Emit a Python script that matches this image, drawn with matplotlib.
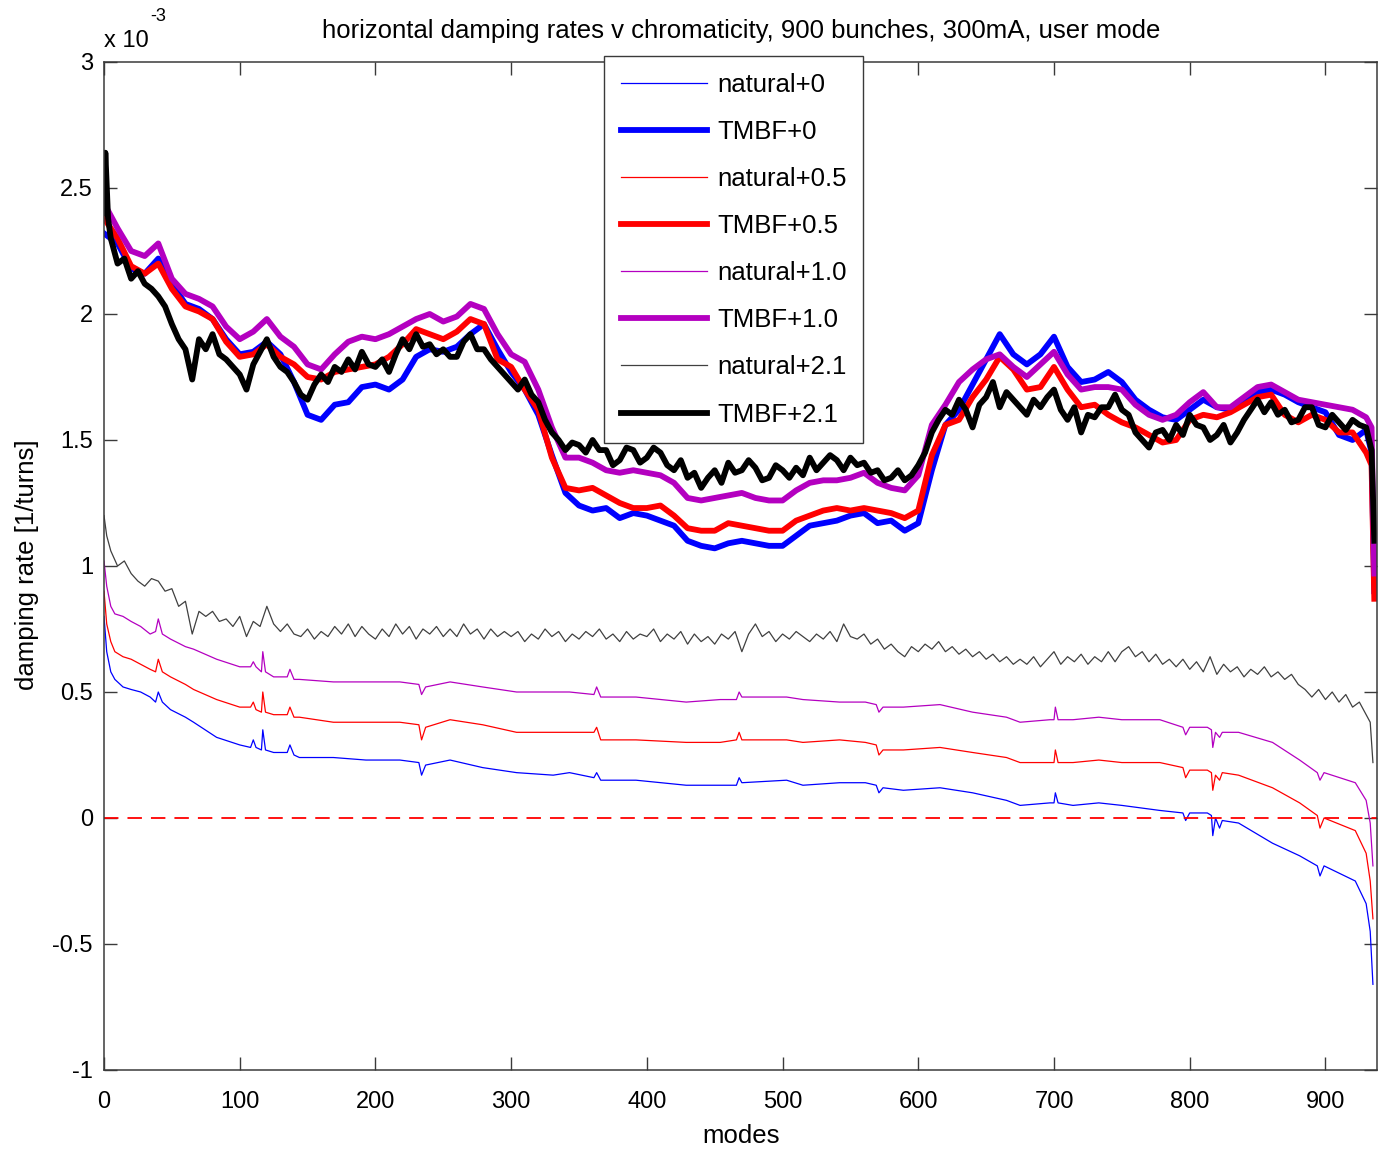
import numpy as np
import matplotlib
matplotlib.use("Agg")
import matplotlib.pyplot as plt

plt.rcParams['font.family'] = ['Liberation Sans', 'DejaVu Sans']

# damping rates in units of 1e-3 [1/turns]
# TMBF curves, sampled every 10 modes plus the final drop
tmbf_modes = list(range(0, 935, 10)) + [934, 936]

tmbf_0 = [2.32, 2.28, 2.18, 2.16, 2.22, 2.12, 2.04, 2.02, 1.98, 1.90,
          1.84, 1.85, 1.89, 1.84, 1.73, 1.60, 1.58, 1.64, 1.65, 1.71,
          1.72, 1.70, 1.74, 1.83, 1.86, 1.85, 1.87, 1.92, 1.96, 1.86,
          1.77, 1.70, 1.60, 1.44, 1.29, 1.24, 1.22, 1.23, 1.19, 1.21,
          1.20, 1.18, 1.16, 1.10, 1.08, 1.07, 1.09, 1.10, 1.09, 1.08,
          1.08, 1.12, 1.16, 1.17, 1.18, 1.20, 1.21, 1.17, 1.18, 1.14,
          1.17, 1.38, 1.56, 1.62, 1.72, 1.82, 1.92, 1.84, 1.80, 1.84,
          1.91, 1.79, 1.73, 1.74, 1.77, 1.73, 1.66, 1.62, 1.59, 1.58,
          1.62, 1.66, 1.63, 1.62, 1.65, 1.69, 1.70, 1.68, 1.65, 1.63,
          1.61, 1.52, 1.50, 1.54, 1.45, 0.90]

tmbf_05 = [2.38, 2.30, 2.19, 2.16, 2.20, 2.10, 2.03, 2.01, 1.98, 1.89,
           1.83, 1.84, 1.88, 1.83, 1.80, 1.75, 1.74, 1.77, 1.78, 1.79,
           1.80, 1.83, 1.88, 1.94, 1.92, 1.90, 1.93, 1.98, 1.96, 1.82,
           1.79, 1.70, 1.62, 1.43, 1.31, 1.30, 1.31, 1.28, 1.25, 1.23,
           1.23, 1.24, 1.20, 1.15, 1.14, 1.14, 1.17, 1.16, 1.15, 1.14,
           1.14, 1.18, 1.20, 1.22, 1.23, 1.22, 1.23, 1.22, 1.21, 1.19,
           1.22, 1.44, 1.56, 1.58, 1.67, 1.74, 1.83, 1.78, 1.70, 1.71,
           1.79, 1.70, 1.63, 1.64, 1.60, 1.57, 1.55, 1.52, 1.49, 1.50,
           1.58, 1.60, 1.59, 1.61, 1.64, 1.67, 1.68, 1.60, 1.57, 1.60,
           1.58, 1.53, 1.53, 1.45, 1.40, 0.87]

tmbf_10 = [2.44, 2.34, 2.25, 2.23, 2.28, 2.14, 2.08, 2.06, 2.03, 1.95,
           1.90, 1.93, 1.98, 1.91, 1.87, 1.80, 1.78, 1.84, 1.89, 1.91,
           1.90, 1.92, 1.95, 1.98, 2.00, 1.97, 1.99, 2.04, 2.02, 1.92,
           1.84, 1.81, 1.70, 1.55, 1.43, 1.43, 1.41, 1.38, 1.37, 1.38,
           1.37, 1.36, 1.33, 1.27, 1.26, 1.27, 1.28, 1.29, 1.27, 1.26,
           1.26, 1.30, 1.33, 1.34, 1.34, 1.35, 1.37, 1.33, 1.31, 1.30,
           1.36, 1.56, 1.64, 1.73, 1.78, 1.82, 1.84, 1.79, 1.75, 1.80,
           1.85, 1.76, 1.70, 1.71, 1.71, 1.70, 1.64, 1.60, 1.58, 1.60,
           1.65, 1.69, 1.63, 1.63, 1.67, 1.71, 1.72, 1.69, 1.66, 1.65,
           1.64, 1.63, 1.62, 1.59, 1.55, 0.97]

# TMBF+2.1 is the noisiest, sampled every 5 modes
tmbf21_modes = [0, 1, 3] + list(range(5, 935, 5)) + [934, 936]
tmbf_21 = [2.40, 2.64, 2.38,
           2.30, 2.20, 2.22, 2.14, 2.17, 2.12, 2.10, 2.07, 2.03, 1.96,
           1.90, 1.86, 1.74, 1.90, 1.86, 1.92, 1.84, 1.82, 1.79, 1.76,
           1.70, 1.80, 1.85, 1.90, 1.83, 1.79, 1.77, 1.73, 1.68, 1.66,
           1.72, 1.76, 1.73, 1.79, 1.77, 1.82, 1.78, 1.85, 1.80, 1.79,
           1.82, 1.77, 1.84, 1.90, 1.86, 1.92, 1.87, 1.88, 1.84, 1.86,
           1.83, 1.83, 1.89, 1.92, 1.86, 1.86, 1.82, 1.79, 1.76, 1.73,
           1.70, 1.74, 1.68, 1.65, 1.58, 1.53, 1.50, 1.46, 1.49, 1.48,
           1.45, 1.50, 1.46, 1.46, 1.40, 1.42, 1.47, 1.46, 1.41, 1.43,
           1.47, 1.45, 1.40, 1.38, 1.42, 1.35, 1.37, 1.31, 1.35, 1.38,
           1.33, 1.41, 1.37, 1.38, 1.42, 1.39, 1.34, 1.35, 1.40, 1.38,
           1.35, 1.39, 1.36, 1.43, 1.38, 1.41, 1.44, 1.42, 1.38, 1.43,
           1.40, 1.41, 1.37, 1.38, 1.34, 1.35, 1.38, 1.34, 1.36, 1.40,
           1.45, 1.53, 1.58, 1.62, 1.60, 1.66, 1.62, 1.55, 1.64, 1.67,
           1.73, 1.63, 1.69, 1.66, 1.63, 1.60, 1.66, 1.63, 1.67, 1.70,
           1.62, 1.58, 1.63, 1.53, 1.60, 1.59, 1.63, 1.63, 1.68, 1.62,
           1.60, 1.53, 1.50, 1.47, 1.53, 1.54, 1.50, 1.56, 1.52, 1.60,
           1.56, 1.55, 1.50, 1.52, 1.56, 1.49, 1.53, 1.58, 1.62, 1.66,
           1.61, 1.65, 1.60, 1.62, 1.57, 1.58, 1.63, 1.63, 1.56, 1.55,
           1.60, 1.57, 1.54, 1.58, 1.56, 1.55,
           1.46, 1.10]

# natural curves (smooth with a few spikes)
nat_modes = [0, 2, 5, 8, 14, 20, 27, 34, 38, 40,
             43, 49, 60, 66, 83, 100, 108, 110, 112, 116,
             117, 119, 125, 135, 137, 140, 144, 169, 193, 218,
             232, 234, 237, 255, 279, 304, 331, 343, 361, 363,
             366, 392, 429, 454, 466, 468, 470, 503, 515, 542,
             561, 569, 571, 574, 589, 616, 640, 665, 675, 697,
             700, 701, 703, 714, 733, 750, 778, 795, 797, 800,
             813, 816, 817, 819, 822, 824, 836, 861, 881, 894,
             896, 899, 922, 930, 933, 935]

nat_0 = [0.80, 0.66, 0.58, 0.55, 0.52, 0.51, 0.50, 0.48, 0.46, 0.50,
         0.46, 0.43, 0.40, 0.38, 0.32, 0.29, 0.28, 0.31, 0.28, 0.27,
         0.35, 0.27, 0.26, 0.26, 0.29, 0.25, 0.24, 0.24, 0.23, 0.23,
         0.22, 0.17, 0.21, 0.23, 0.20, 0.18, 0.17, 0.18, 0.16, 0.18,
         0.15, 0.15, 0.13, 0.13, 0.13, 0.16, 0.14, 0.15, 0.13, 0.14,
         0.14, 0.13, 0.10, 0.12, 0.11, 0.12, 0.10, 0.07, 0.05, 0.06,
         0.06, 0.10, 0.06, 0.05, 0.06, 0.05, 0.03, 0.02, -0.01, 0.02,
         0.02, 0.01, -0.07, 0.00, -0.04, -0.01, -0.02, -0.10, -0.15, -0.19,
         -0.23, -0.19, -0.25, -0.34, -0.45, -0.66]

nat_05 = [0.90, 0.77, 0.70, 0.66, 0.64, 0.63, 0.61, 0.59, 0.58, 0.63,
          0.58, 0.56, 0.53, 0.51, 0.47, 0.44, 0.44, 0.46, 0.43, 0.42,
          0.50, 0.42, 0.41, 0.41, 0.44, 0.40, 0.40, 0.38, 0.38, 0.38,
          0.37, 0.31, 0.36, 0.39, 0.37, 0.34, 0.34, 0.34, 0.34, 0.36,
          0.31, 0.31, 0.30, 0.30, 0.31, 0.34, 0.31, 0.31, 0.30, 0.31,
          0.30, 0.29, 0.25, 0.27, 0.27, 0.28, 0.26, 0.24, 0.22, 0.22,
          0.22, 0.27, 0.22, 0.22, 0.23, 0.22, 0.22, 0.20, 0.16, 0.19,
          0.19, 0.18, 0.11, 0.17, 0.15, 0.18, 0.17, 0.12, 0.06, 0.01,
          -0.04, 0.00, -0.05, -0.14, -0.25, -0.40]

nat_10 = [1.02, 0.92, 0.84, 0.81, 0.80, 0.78, 0.76, 0.73, 0.74, 0.79,
          0.73, 0.71, 0.68, 0.67, 0.63, 0.60, 0.60, 0.62, 0.60, 0.58,
          0.66, 0.58, 0.56, 0.56, 0.59, 0.55, 0.55, 0.54, 0.54, 0.54,
          0.53, 0.49, 0.52, 0.54, 0.52, 0.50, 0.50, 0.50, 0.49, 0.52,
          0.48, 0.48, 0.46, 0.47, 0.47, 0.50, 0.48, 0.48, 0.47, 0.46,
          0.46, 0.45, 0.42, 0.44, 0.44, 0.45, 0.42, 0.40, 0.38, 0.39,
          0.39, 0.44, 0.39, 0.39, 0.40, 0.39, 0.39, 0.36, 0.33, 0.36,
          0.36, 0.35, 0.28, 0.34, 0.32, 0.34, 0.34, 0.30, 0.23, 0.18,
          0.15, 0.18, 0.14, 0.07, -0.02, -0.19]

# natural+2.1 is noisy, sampled every 5 modes
nat21_modes = [0, 2] + list(range(5, 935, 5)) + [933, 935]
nat_21 = [1.20, 1.12,
          1.06, 1.00, 1.02, 0.97, 0.94, 0.92, 0.95, 0.94, 0.90, 0.91,
          0.84, 0.86, 0.73, 0.82, 0.80, 0.82, 0.78, 0.79, 0.76, 0.80,
          0.72, 0.78, 0.76, 0.84, 0.77, 0.74, 0.77, 0.73, 0.72, 0.75,
          0.71, 0.74, 0.72, 0.76, 0.73, 0.77, 0.72, 0.76, 0.73, 0.71,
          0.75, 0.72, 0.77, 0.73, 0.76, 0.71, 0.75, 0.73, 0.76, 0.72,
          0.75, 0.72, 0.77, 0.73, 0.75, 0.71, 0.75, 0.72, 0.74, 0.72,
          0.74, 0.70, 0.73, 0.71, 0.75, 0.72, 0.74, 0.70, 0.73, 0.71,
          0.74, 0.72, 0.75, 0.71, 0.73, 0.70, 0.74, 0.71, 0.73, 0.72,
          0.75, 0.70, 0.73, 0.71, 0.74, 0.69, 0.73, 0.70, 0.72, 0.69,
          0.73, 0.71, 0.74, 0.66, 0.73, 0.77, 0.72, 0.74, 0.70, 0.73,
          0.71, 0.74, 0.72, 0.70, 0.73, 0.71, 0.74, 0.70, 0.77, 0.72,
          0.71, 0.73, 0.69, 0.71, 0.67, 0.69, 0.66, 0.64, 0.68, 0.66,
          0.69, 0.67, 0.70, 0.66, 0.68, 0.65, 0.67, 0.64, 0.66, 0.63,
          0.65, 0.62, 0.64, 0.61, 0.63, 0.61, 0.64, 0.60, 0.63, 0.66,
          0.61, 0.64, 0.62, 0.65, 0.61, 0.64, 0.62, 0.66, 0.62, 0.66,
          0.68, 0.64, 0.66, 0.62, 0.65, 0.61, 0.63, 0.60, 0.63, 0.59,
          0.62, 0.58, 0.64, 0.57, 0.61, 0.58, 0.60, 0.56, 0.59, 0.57,
          0.60, 0.56, 0.58, 0.55, 0.57, 0.53, 0.51, 0.48, 0.51, 0.47,
          0.50, 0.46, 0.49, 0.44, 0.46, 0.41,
          0.38, 0.22]

PURPLE = '#b400c0'
AXCOL = '#3a3a3a'
FS = 18.5      # title, labels, legend
TICK_FS = 17

fig = plt.figure(figsize=(13.78, 11.49), dpi=100)
ax = fig.add_axes([104/1378, 79/1149, 1273/1378, 1008/1149])

thin, thick = 0.9, 4.2
ax.plot(nat_modes, nat_0, color='blue', lw=thin, label='natural+0')
ax.plot(tmbf_modes, tmbf_0, color='blue', lw=thick, label='TMBF+0')
ax.plot(nat_modes, nat_05, color='red', lw=thin, label='natural+0.5')
ax.plot(tmbf_modes, tmbf_05, color='red', lw=thick, label='TMBF+0.5')
ax.plot(nat_modes, nat_10, color=PURPLE, lw=thin, label='natural+1.0')
ax.plot(tmbf_modes, tmbf_10, color=PURPLE, lw=thick, label='TMBF+1.0')
ax.plot(nat21_modes, nat_21, color='#404040', lw=thin, label='natural+2.1')
ax.plot(tmbf21_modes, tmbf_21, color='black', lw=thick, label='TMBF+2.1')
ax.axhline(0, color='red', lw=1.3, dashes=(8, 5))

ax.set_xlim(0, 938)
ax.set_ylim(-1, 3)
ax.set_xticks(np.arange(0, 901, 100))
ax.set_yticks(np.arange(-1, 3.01, 0.5))
ax.set_yticklabels(['-1', '-0.5', '0', '0.5', '1', '1.5', '2', '2.5', '3'])
ax.tick_params(direction='in', length=9.5, width=1, color=AXCOL,
               top=True, right=True, labelsize=TICK_FS)
ax.tick_params(axis='x', pad=15)
ax.tick_params(axis='y', pad=8)
for s in ax.spines.values():
    s.set_color(AXCOL)
    s.set_linewidth(1.1)

leg = ax.legend(loc='upper left', bbox_to_anchor=(604/1378, 1 - 56/1149),
                bbox_transform=fig.transFigure, fontsize=FS, frameon=True,
                fancybox=False, framealpha=1, edgecolor=AXCOL,
                handlelength=3.35, handletextpad=0.4, labelspacing=0.9,
                borderpad=0.65, borderaxespad=0)
leg.get_frame().set_linewidth(1.0)

fig.text(741/1378, 1 - 38/1149,
         'horizontal damping rates v chromaticity, 900 bunches, 300mA, user mode',
         ha='center', va='baseline', fontsize=FS)
fig.text(104/1378, 1 - 47/1149, 'x 10', ha='left', va='baseline', fontsize=TICK_FS)
fig.text(150/1378, 1 - 21/1149, '-3', ha='left', va='baseline', fontsize=13)
fig.text(741/1378, 1 - 1136/1149, 'modes', ha='center', va='center', fontsize=FS)
fig.text(27/1378, 1 - 565/1149, 'damping rate [1/turns]', ha='center',
         va='center', rotation=90, fontsize=FS)

fig.savefig('out.png', dpi=100)
